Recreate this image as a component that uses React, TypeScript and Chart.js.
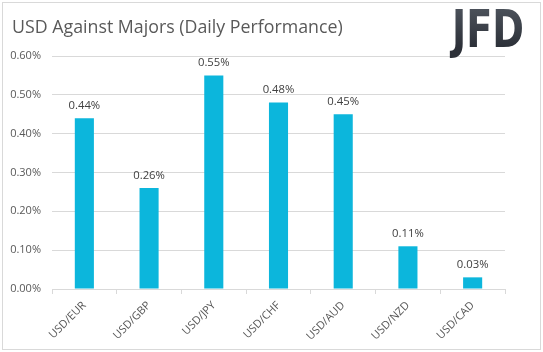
import React, { useEffect, useRef } from "react";
import { Chart, registerables } from "chart.js";

Chart.register(...registerables);

const categories = ["USD/EUR", "USD/GBP", "USD/JPY", "USD/CHF", "USD/AUD", "USD/NZD", "USD/CAD"];
const values = [0.44, 0.26, 0.55, 0.48, 0.45, 0.11, 0.03];
const labels = ["0.44%", "0.26%", "0.55%", "0.48%", "0.45%", "0.11%", "0.03%"];
const titleText = "USD Against Majors (Daily Performance)";
const FONT = "'Open Sans', sans-serif";

const decorPlugin = {
  id: "decor",
  beforeDraw(chart: any) {
    const ctx = chart.ctx;
    ctx.save();
    ctx.fillStyle = "#ffffff";
    ctx.fillRect(0, 0, chart.width, chart.height);
    ctx.strokeStyle = "#d9d9d9";
    ctx.lineWidth = 1;
    ctx.strokeRect(2.5, 2.5, chart.width - 5, chart.height - 5);
    ctx.restore();
  },
  afterDraw(chart: any) {
    const ctx = chart.ctx;
    ctx.save();
    // title
    ctx.fillStyle = "#595959";
    ctx.font = `17.8px ${FONT}`;
    ctx.textBaseline = "middle";
    ctx.textAlign = "left";
    ctx.fillText(titleText, 12, 28);
    // logo
    ctx.font = `bold 52px 'DejaVu Sans', sans-serif`;
    const w = ctx.measureText("JFD").width;
    ctx.translate(452, 47);
    ctx.scale(72 / w, 1);
    const g = ctx.createLinearGradient(0, -37, 0, 0);
    g.addColorStop(0, "#4a5059");
    g.addColorStop(1, "#2c3038");
    ctx.fillStyle = g;
    ctx.textBaseline = "alphabetic";
    ctx.fillText("JFD", 0, 0);
    ctx.restore();
    // data labels
    const meta = chart.getDatasetMeta(0);
    ctx.save();
    ctx.fillStyle = "#404040";
    ctx.font = `11.3px ${FONT}`;
    ctx.textAlign = "center";
    ctx.textBaseline = "bottom";
    meta.data.forEach((bar: any, i: number) => {
      ctx.fillText(labels[i], bar.x, bar.y - 7);
    });
    ctx.restore();
  },
};

export default function App() {
  const ref = useRef<HTMLCanvasElement>(null);
  useEffect(() => {
    document.body.style.margin = "0";
    const chart = new Chart(ref.current!, {
      type: "bar",
      data: {
        labels: categories,
        datasets: [
          {
            data: values,
            backgroundColor: "#0cb6dc",
            categoryPercentage: 1,
            barPercentage: 0.295,
          },
        ],
      },
      options: {
        responsive: false,
        animation: false,
        devicePixelRatio: 1,
        layout: { padding: { left: 0, right: 38, top: 56, bottom: 13 } },
        plugins: { legend: { display: false }, tooltip: { enabled: false }, title: { display: false } },
        scales: {
          x: {
            offset: true,
            grid: { display: true, drawOnChartArea: false, drawTicks: true, tickLength: 5, color: "#d9d9d9", offset: true },
            border: { display: false },
            ticks: {
              color: "#595959",
              font: { family: FONT, size: 11 },
              maxRotation: 45,
              minRotation: 45,
              padding: 5,
            },
            afterFit(scale: any) {
              scale.height = 50;
            },
          },
          y: {
            min: 0,
            max: 0.6,
            grid: { color: "#d9d9d9", drawTicks: false },
            border: { display: false },
            ticks: {
              stepSize: 0.1,
              color: "#595959",
              font: { family: FONT, size: 11 },
              padding: 11,
              callback: (v: any) => Number(v).toFixed(2) + "%",
            },
            afterFit(scale: any) {
              scale.width = 52;
            },
          },
        },
      },
      plugins: [decorPlugin],
    });
    return () => chart.destroy();
  }, []);
  return (
    <div style={{ width: 543, height: 352 }}>
      <canvas ref={ref} width={543} height={352} style={{ display: "block" }} />
    </div>
  );
}
